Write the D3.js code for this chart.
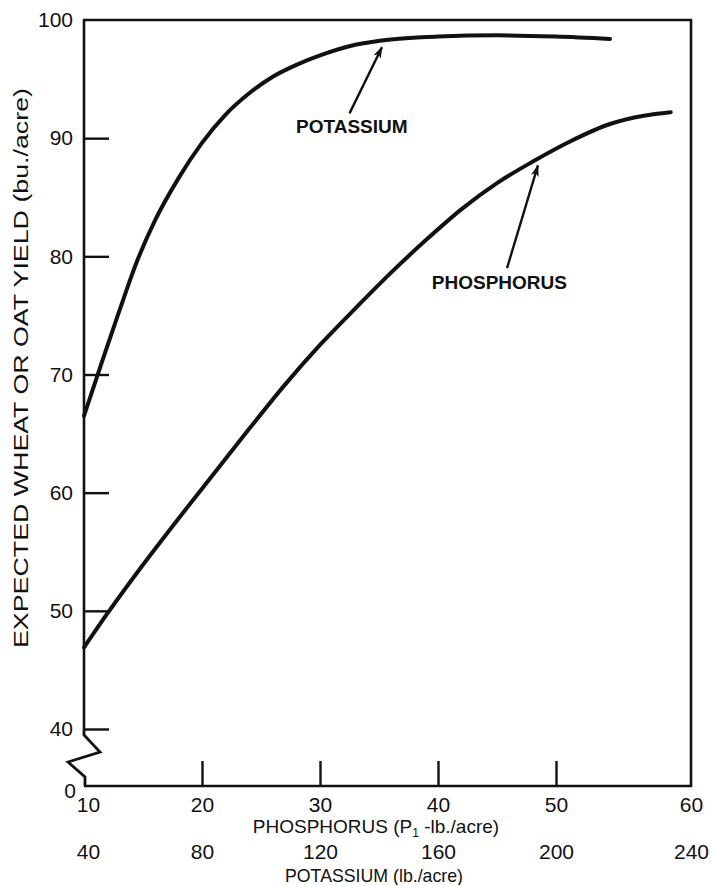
<!DOCTYPE html>
<html><head><meta charset="utf-8">
<script src="https://cdn.jsdelivr.net/npm/d3@7"></script>
<style>
body{margin:0;background:#fff;}
svg{display:block;}
</style></head>
<body>
<svg id="c" width="711" height="885"></svg>
<script>
// ---- data ----
const phosphorusTicks = [10, 20, 30, 40, 50, 60];
const potassiumTicks = [40, 80, 120, 160, 200, 240];
const yTickLabels = [0, 40, 50, 60, 70, 80, 90, 100];
const yTickMarks = [40, 50, 60, 70, 80, 90];
const xTickMarks = [20, 30, 40, 50];

// potassium curve, x in phosphorus-equivalent units (K = 4 * P)
const potassiumX = [10, 11.5, 13, 14.5, 16, 18, 20, 22, 24, 26, 28, 30, 33, 36, 40, 45, 50, 54];
const potassiumY = [66.5, 71.0, 75.4, 79.6, 83.0, 86.6, 89.6, 92.0, 93.8, 95.2, 96.2, 97.0, 97.9, 98.35, 98.6, 98.7, 98.6, 98.4];

const phosphorusX = [10, 12, 15, 18, 21, 24, 27, 30, 33, 36, 39, 42, 45, 48, 51, 54, 56.5, 58.5];
const phosphorusY = [46.9, 49.8, 53.9, 57.8, 61.6, 65.4, 69.1, 72.5, 75.6, 78.6, 81.4, 84.0, 86.2, 88.0, 89.7, 91.2, 91.9, 92.2];

const annotations = [
  {label: "POTASSIUM", lx: 32.7, ly: 90.4, tail: [32.5, 92.1], tip: [35.25, 97.7]},
  {label: "PHOSPHORUS", lx: 45.2, ly: 77.2, tail: [45.85, 79.0], tip: [48.47, 87.7]}
];

// ---- scales ----
const x = d3.scaleLinear().domain([10, 50, 60]).range([84, 556, 691]);
const xK = d3.scaleLinear().domain([40, 200, 240]).range([84, 556, 691]);
const y = d3.scaleLinear().domain([0, 40, 100]).range([786, 729, 20]);

const FF = "'Liberation Sans', Arial, sans-serif";
const INK = "#111";

const svg = d3.select("#c");
const defs = svg.append("defs");
defs.append("marker").attr("id", "ah").attr("viewBox", "0 0 12 8")
  .attr("refX", 11).attr("refY", 4).attr("markerWidth", 12).attr("markerHeight", 8)
  .attr("markerUnits", "userSpaceOnUse").attr("orient", "auto")
  .append("path").attr("d", "M0,0 L12,4 L0,8 L3,4 Z").attr("fill", INK);

// ---- frame ----
const xl = x(10), xr = x(60), yt = y(100), yb = y(0);
svg.append("path")
  .attr("d", `M${xl},${y(40)} L${xl},${yt} L${xr},${yt} L${xr},${yb} L${xl},${yb}`)
  .attr("fill", "none").attr("stroke", INK).attr("stroke-width", 2.6);
// axis break zigzag below 40
svg.append("path")
  .attr("d", `M${xl},${y(40)} L${xl},${y(40) + 6} L${xl + 16},${y(40) + 23} L${xl - 16},${y(40) + 33} L${xl + 1},${y(40) + 48} L${xl + 1},${yb}`)
  .attr("fill", "none").attr("stroke", INK).attr("stroke-width", 2.8).attr("stroke-linejoin", "miter");

// ---- tick marks ----
svg.append("g").attr("transform", `translate(${xl},0)`)
  .call(d3.axisRight(y).tickValues(yTickMarks).tickSize(25).tickFormat(""))
  .call(g => g.select(".domain").remove())
  .selectAll("line").attr("stroke", INK).attr("stroke-width", 2.4);
svg.append("g").attr("transform", `translate(0,${yb})`)
  .call(d3.axisTop(x).tickValues(xTickMarks).tickSize(25).tickFormat(""))
  .call(g => g.select(".domain").remove())
  .selectAll("line").attr("stroke", INK).attr("stroke-width", 2.4);

// ---- tick labels ----
function styleLabels(g) {
  g.select(".domain").remove();
  g.selectAll("text").style("font-family", FF).style("font-size", "21px").style("fill", INK);
}
const yLab = svg.append("g").attr("transform", `translate(${xl},0)`)
  .call(d3.axisLeft(y).tickValues(yTickLabels).tickSize(0).tickPadding(11));
styleLabels(yLab);
yLab.selectAll(".tick").filter(d => d === 0).select("text").attr("dy", "0.55em").attr("x", -8);

const xLab = svg.append("g").attr("transform", `translate(0,${yb})`)
  .call(d3.axisBottom(x).tickValues(phosphorusTicks).tickSize(0).tickPadding(11));
styleLabels(xLab);
xLab.selectAll(".tick").filter(d => d === 10).select("text").attr("dx", 4);

const kLab = svg.append("g").attr("transform", `translate(0,${yb})`)
  .call(d3.axisBottom(xK).tickValues(potassiumTicks).tickSize(0).tickPadding(58));
styleLabels(kLab);
kLab.selectAll(".tick").filter(d => d === 40).select("text").attr("dx", 4);

// ---- axis titles ----
const px = svg.append("text").attr("x", 376).attr("y", 833).attr("text-anchor", "middle")
  .style("font-family", FF).style("font-size", "19px").style("fill", INK);
px.append("tspan").text("PHOSPHORUS (P");
px.append("tspan").style("font-size", "12px").attr("dy", 4).text("1");
px.append("tspan").attr("dy", -4).text(" -lb./acre)");

svg.append("text").attr("x", 374).attr("y", 882).attr("text-anchor", "middle")
  .style("font-family", FF).style("font-size", "19px").style("fill", INK)
  .attr("textLength", 178).attr("lengthAdjust", "spacingAndGlyphs")
  .text("POTASSIUM (lb./acre)");

svg.append("text").attr("transform", "translate(28,368) rotate(-90)")
  .attr("text-anchor", "middle")
  .style("font-family", FF).style("font-size", "21px").style("fill", INK)
  .attr("textLength", 560).attr("lengthAdjust", "spacingAndGlyphs")
  .text("EXPECTED WHEAT OR OAT YIELD (bu./acre)");

// ---- curves ----
const line = d3.line().x(d => x(d[0])).y(d => y(d[1])).curve(d3.curveMonotoneX);
svg.append("path").datum(potassiumX.map((v, i) => [v, potassiumY[i]]))
  .attr("d", line).attr("fill", "none").attr("stroke", INK).attr("stroke-width", 4).attr("stroke-linecap", "round");
svg.append("path").datum(phosphorusX.map((v, i) => [v, phosphorusY[i]]))
  .attr("d", line).attr("fill", "none").attr("stroke", INK).attr("stroke-width", 4).attr("stroke-linecap", "round");

// ---- annotations ----
annotations.forEach(a => {
  svg.append("line")
    .attr("x1", x(a.tail[0])).attr("y1", y(a.tail[1]))
    .attr("x2", x(a.tip[0])).attr("y2", y(a.tip[1]))
    .attr("stroke", INK).attr("stroke-width", 2.4).attr("marker-end", "url(#ah)");
  svg.append("text").attr("x", x(a.lx)).attr("y", y(a.ly))
    .attr("text-anchor", "middle")
    .style("font-family", FF).style("font-size", "19px").style("font-weight", "bold").style("fill", INK)
    .text(a.label);
});
</script>
</body></html>
